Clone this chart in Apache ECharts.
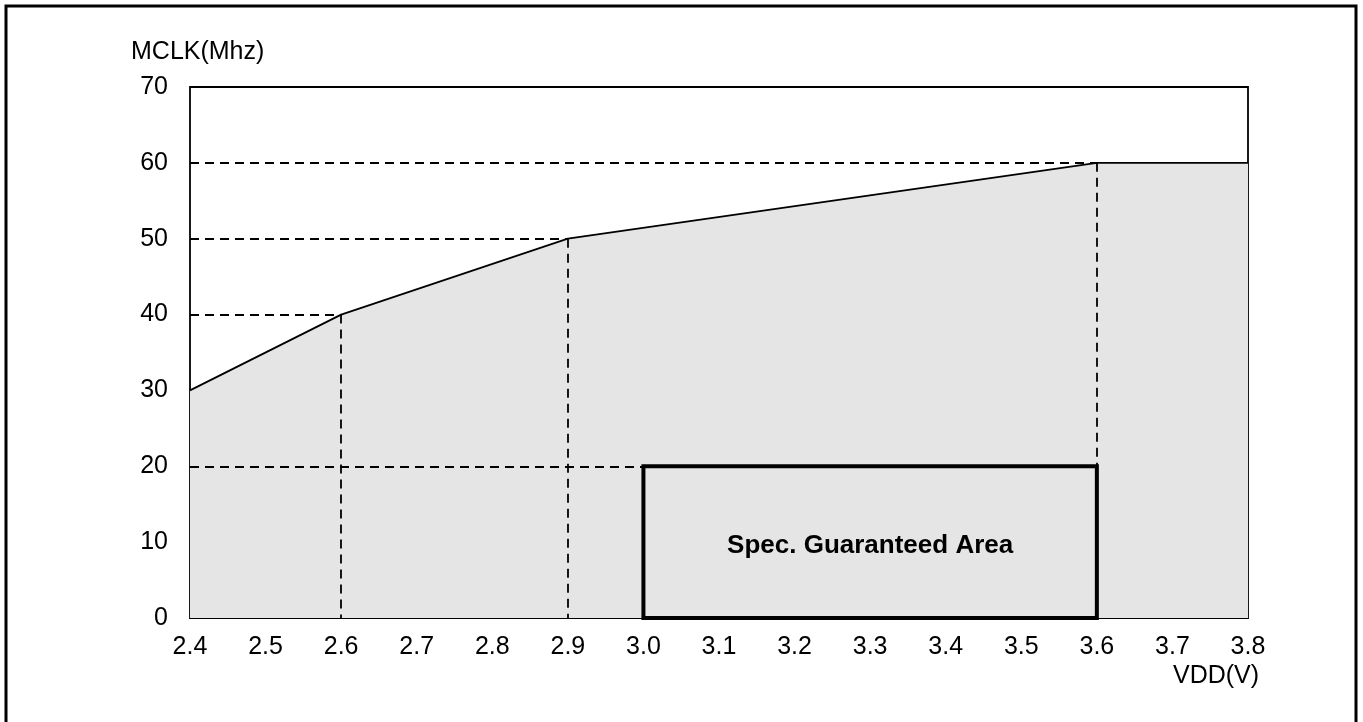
<!DOCTYPE html>
<html>
<head>
<meta charset="utf-8">
<script src="https://cdn.jsdelivr.net/npm/echarts@6/dist/echarts.min.js"></script>
<style>
  html, body { margin: 0; padding: 0; background: #fff; }
  #chart { width: 1363px; height: 722px; }
</style>
</head>
<body>
<div id="chart"></div>
<script>
  // operating curve knots
  var vddValues = [2.4, 2.6, 2.9, 3.6, 3.8];
  var mclkValues = [30, 40, 50, 60, 60];
  // spec guaranteed box
  var specVdd = [3.0, 3.6];
  var specMclk = [0, 20];
  var specLabel = 'Spec. Guaranteed Area';
  var xTicks = { min: 2.4, max: 3.8, step: 0.1 };
  var yTicks = { min: 0, max: 70, step: 10 };

  var font = 'Liberation Sans, Arial, sans-serif';

  var curve = vddValues.map(function (v, i) { return [v, mclkValues[i]]; });

  // dashed guide lines from the inner knots to the axes
  var guides = [];
  for (var i = 1; i < vddValues.length - 1; i++) {
    var x = vddValues[i], y = mclkValues[i];
    guides.push([{ coord: [xTicks.min, y] }, { coord: [x, y] }]);
    var bottom = (x >= specVdd[0] && x <= specVdd[1]) ? specMclk[1] : yTicks.min;
    guides.push([{ coord: [x, y] }, { coord: [x, bottom] }]);
  }
  guides.push([{ coord: [xTicks.min, specMclk[1]] }, { coord: [specVdd[0], specMclk[1]] }]);

  var myChart = echarts.init(document.getElementById('chart'));
  var option = {
    backgroundColor: '#fff',
    animation: false,
    textStyle: { fontFamily: font, color: '#000' },
    grid: {
      left: 190,
      right: 115,
      top: 87,
      bottom: 104,
      show: true,
      borderColor: '#000',
      borderWidth: 1.8,
      backgroundColor: 'transparent'
    },
    graphic: [
      {
        type: 'rect',
        shape: { x: 6, y: 6, width: 1350, height: 760 },
        style: { fill: 'none', stroke: '#000', lineWidth: 3 },
        silent: true
      },
      {
        type: 'text',
        left: 131,
        top: 40,
        style: { text: 'MCLK(Mhz)', font: '25px ' + font, fill: '#000' }
      },
      {
        type: 'text',
        left: 1173,
        top: 664,
        style: { text: 'VDD(V)', font: '25px ' + font, fill: '#000' }
      }
    ],
    xAxis: {
      type: 'value',
      min: xTicks.min,
      max: xTicks.max,
      interval: xTicks.step,
      axisLine: { show: false },
      axisTick: { show: false },
      splitLine: { show: false },
      axisLabel: {
        margin: 17,
        fontSize: 25,
        color: '#000',
        fontFamily: font,
        formatter: function (v) { return v.toFixed(1); }
      }
    },
    yAxis: {
      type: 'value',
      min: yTicks.min,
      max: yTicks.max,
      interval: yTicks.step,
      axisLine: { show: false },
      axisTick: { show: false },
      splitLine: { show: false },
      axisLabel: {
        margin: 22,
        fontSize: 25,
        color: '#000',
        fontFamily: font
      }
    },
    series: [
      {
        type: 'line',
        data: curve,
        symbol: 'none',
        silent: true,
        lineStyle: { color: '#000', width: 1.8 },
        areaStyle: { color: '#e5e5e5', opacity: 1 },
        z: 2,
        markLine: {
          silent: true,
          symbol: 'none',
          label: { show: false },
          lineStyle: { color: '#000', width: 1.8, type: [9, 6] },
          data: guides
        },
        markArea: {
          silent: true,
          z: 6,
          itemStyle: { color: '#e5e5e5', borderColor: '#000', borderWidth: 4 },
          label: {
            show: true,
            position: 'inside',
            offset: [0, 4],
            color: '#000',
            fontFamily: font,
            fontSize: 26,
            fontWeight: 'bold'
          },
          data: [[
            { name: specLabel, coord: [specVdd[0], specMclk[0]] },
            { coord: [specVdd[1], specMclk[1]] }
          ]]
        }
      }
    ]
  };
  myChart.setOption(option);
  window.onresize = myChart.resize;
</script>
</body>
</html>
